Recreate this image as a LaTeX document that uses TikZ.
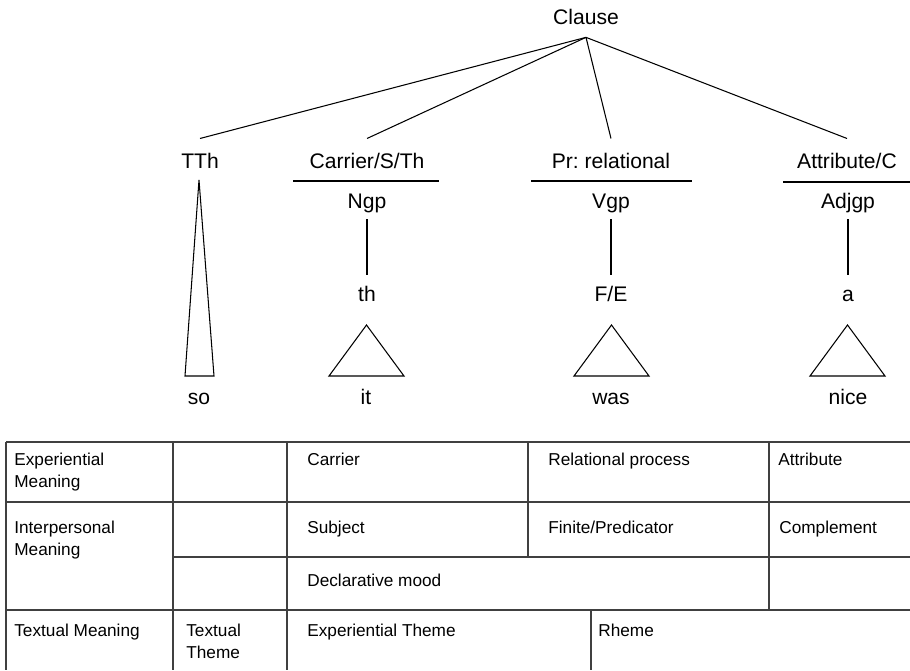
\documentclass[tikz,border=0pt]{standalone}
\usepackage{fontspec}
\setmainfont{Liberation Sans}
\usetikzlibrary{positioning}
\frenchspacing

\begin{document}
\begin{tikzpicture}[
    x=0.02cm, y=-0.02cm,
    lbl/.style={font=\fontsize{12}{14}\selectfont, anchor=base, text height=0.75em, text depth=0.25em, inner xsep=1pt},
    top/.style={lbl, inner ysep=4.9pt},
    role/.style={lbl, inner ysep=9.1pt},
    grp/.style={lbl, inner ysep=3.8pt},
    head/.style={lbl, inner ysep=7.3pt},
    word/.style={lbl, inner ysep=1pt},
    cell/.style={font=\fontsize{9.8}{12.5}\selectfont, anchor=base west, inner sep=0pt, align=left},
    branch/.style={line width=0.6pt},
    grid/.style={line width=0.8pt, black!75}
  ]
  \useasboundingbox (0,0) rectangle (910,670);

  % tree
  \node[top] (clause) at (586,24) {Clause};
  \node[role] (tth) at (200,168) {TTh};
  \node[role] (carrier) at (367,168) {Carrier/S/Th};
  \node[role] (prrel) at (611,168) {Pr: relational};
  \node[role] (attrib) at (847,168) {Attribute/C};

  \node[grp] (ngp) at (367,208) {Ngp};
  \node[grp] (vgp) at (611,208) {Vgp};
  \node[grp] (adjgp) at (848,208) {Adjgp};

  \node[head] (th) at (367,301) {th};
  \node[head] (fe) at (611,301) {F/E};
  \node[head] (ahead) at (848,301) {a};

  \node[word] (so) at (199,404) {so};
  \node[word] (it) at (366,404) {it};
  \node[word] (was) at (611,404) {was};
  \node[word] (nice) at (848,404) {nice};

  \foreach \n in {tth, carrier, prrel, attrib}
    \draw[branch] (clause.south) -- (\n.north);

  \draw[branch] (293,181) -- (439,181);
  \draw[branch] (531,181) -- (692,181);
  \draw[branch] (783,182) -- (910,182);

  \draw[branch] (ngp.south) -- (th.north);
  \draw[branch] (vgp.south) -- (fe.north);
  \draw[branch] (adjgp.south) -- (ahead.north);

  % triangles
  \draw[branch] (199,180) -- (185,376) -- (214,376) -- cycle;
  \foreach \x in {366.5, 611.5, 847.5}
    \draw[branch] (\x,325) -- ++(-37.5,51) -- ++(75,0) -- cycle;

  % table
  \draw[grid] (6,442) -- (910,442);
  \draw[grid] (6,502) -- (910,502);
  \draw[grid] (173,557) -- (910,557);
  \draw[grid] (6,610) -- (910,610);
  \draw[grid] (6,442) -- (6,670);
  \draw[grid] (173,442) -- (173,670);
  \draw[grid] (287,442) -- (287,670);
  \draw[grid] (528,442) -- (528,557);
  \draw[grid] (769,442) -- (769,610);
  \draw[grid] (591,610) -- (591,670);

  % multi-line cells sit on their last baseline
  \node[cell] (expm) at (14,487) {Experiential\\Meaning};
  \node[cell] (carc) at (307,465) {Carrier};
  \node[cell] (relc) at (548,465) {Relational process};
  \node[cell] (attc) at (778,465) {Attribute};

  \node[cell] (intm) at (14,555) {Interpersonal\\Meaning};
  \node[cell] (subc) at (307,533) {Subject};
  \node[cell] (finc) at (548,533) {Finite/Predicator};
  \node[cell] (comc) at (779,533) {Complement};

  \node[cell] (decc) at (307,586) {Declarative mood};

  \node[cell] (txtm) at (14,636) {Textual Meaning};
  \node[cell] (txtt) at (186,658) {Textual\\Theme};
  \node[cell] (expt) at (307,636) {Experiential Theme};
  \node[cell] (rhem) at (598,636) {Rheme};
\end{tikzpicture}
\end{document}
